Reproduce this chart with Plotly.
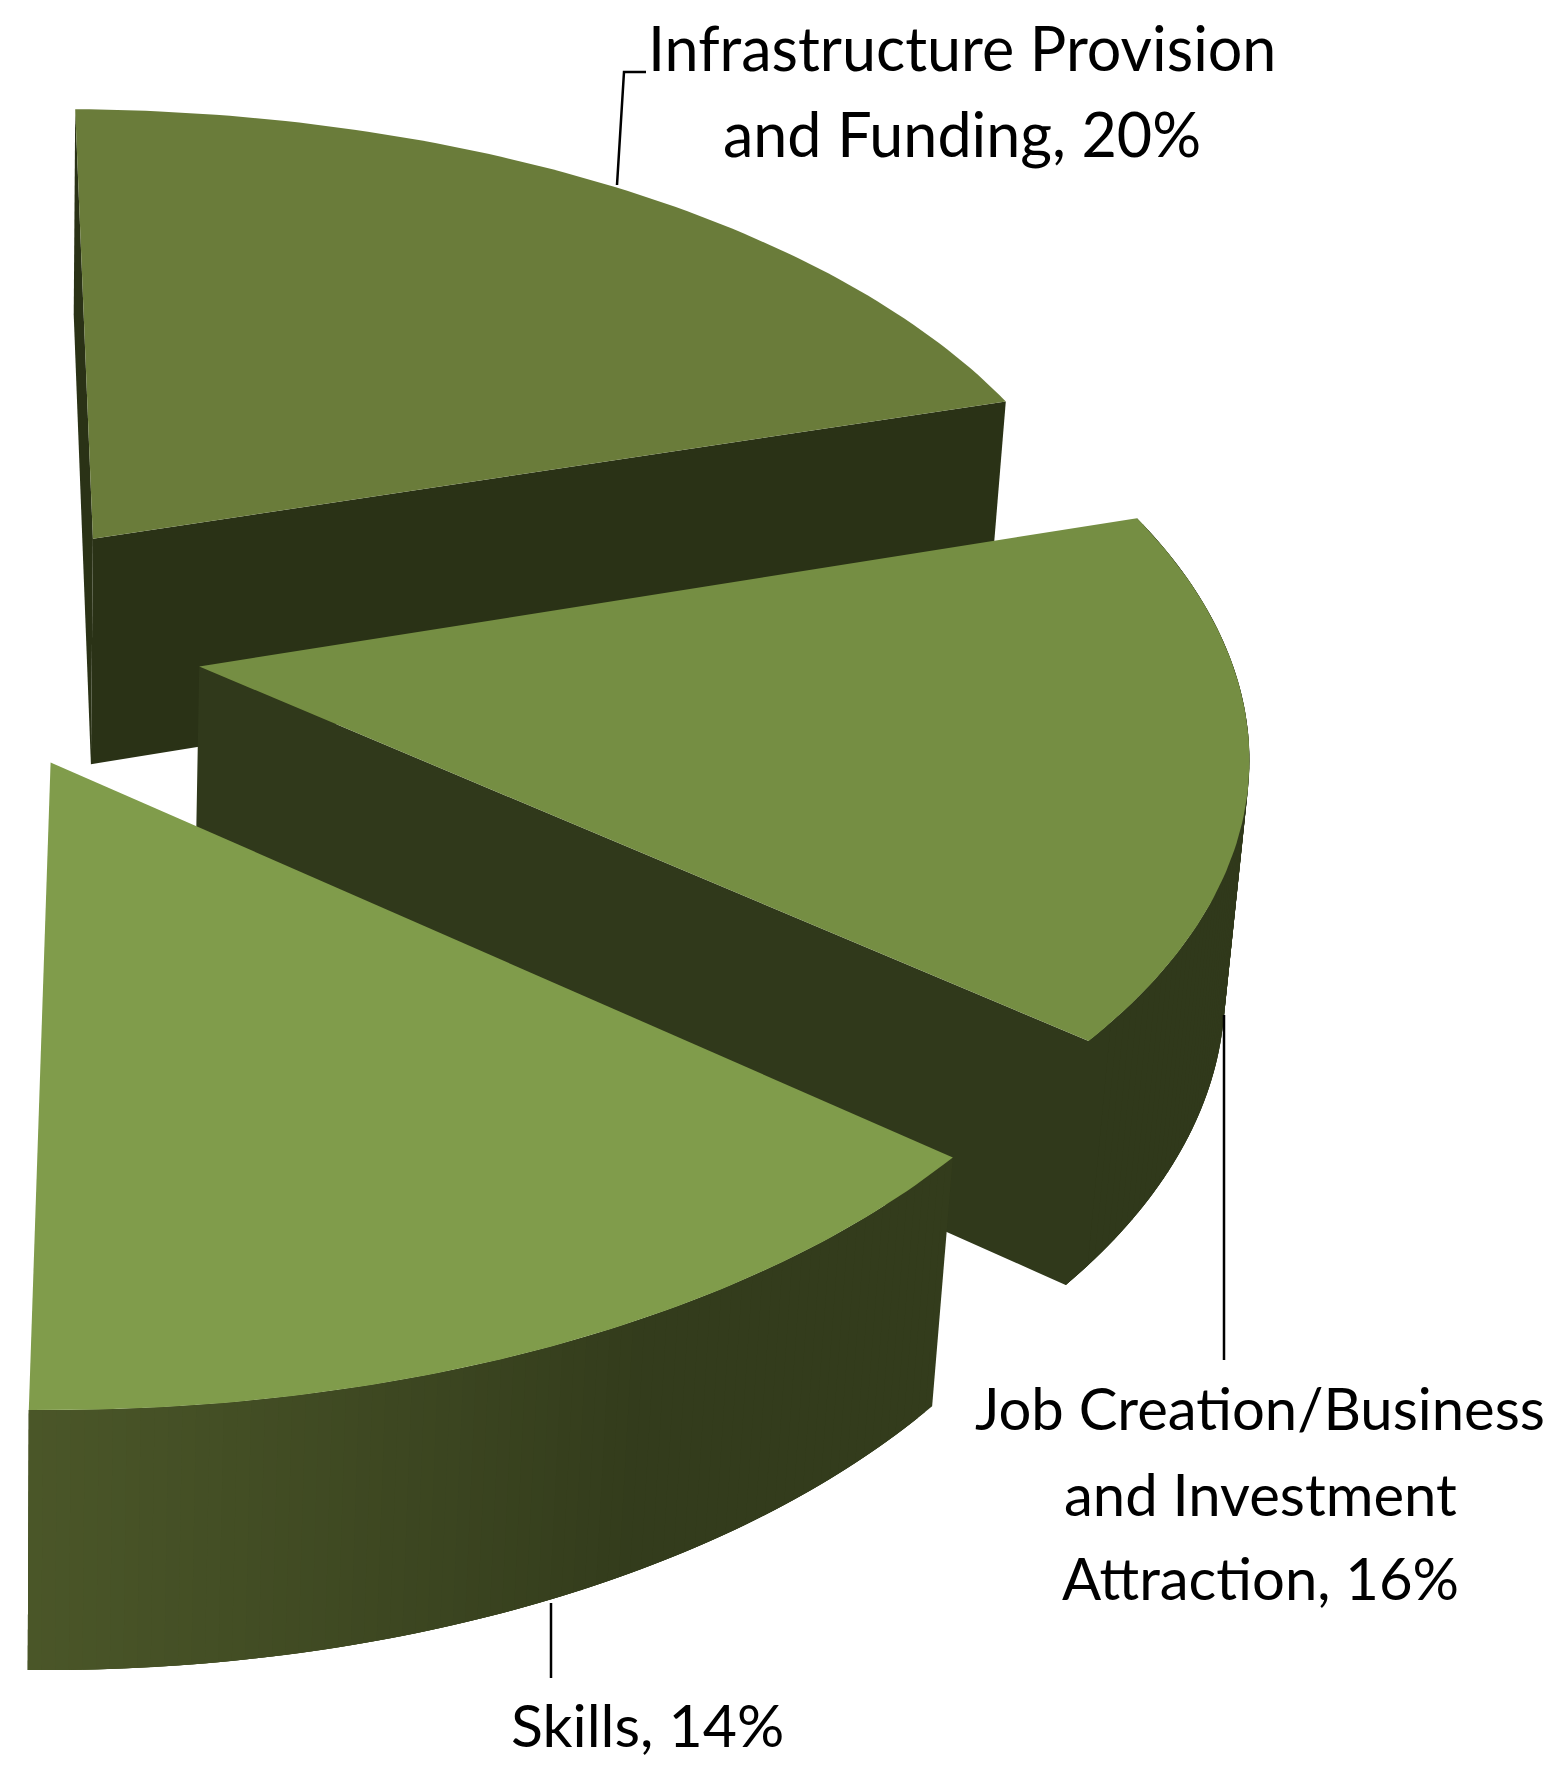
import numpy as np
import plotly.graph_objects as go

# Data
categories = ["Infrastructure Provision and Funding", "Job Creation/Business and Investment Attraction", "Skills"]
values = [20, 16, 14]
label_lines = [["Infrastructure Provision", "and Funding, 20%"],
               ["Job Creation/Business", "and Investment", "Attraction, 16%"],
               ["Skills, 14%"]]

# Styles and projection (pie plane -> picture pixels)
top_colors = ["#6A7C3A", "#758E43", "#809C4B"]
wall_colors = ["#2A3216", "#30391B"]
wall_left, wall_right = np.array([0x4B, 0x57, 0x29]), np.array([0x33, 0x3C, 0x1C])
H = np.array([[1.03811, 0.10151, -0.05734], [0.05152, -0.42394, 0.63999], [-0.0037, 0.14245, 1.0]])
H[:2] *= 1000
VANISH = np.array([-17.0, 12800.0])
THICK = 0.0193
EXPLODE = 0.25
START_DEG = -6.0
ANGLE_SCALE = 1.01
FONT = "Lato"
label_sizes = [61, 58, 59]
PAGE_MARGIN = 8  # the browser's default body margin

def project(X, Y, bottom=False):
    p = np.vstack([X, Y, np.ones_like(X)])
    q = H @ p
    if bottom:
        q = q + np.vstack([np.full_like(X, THICK * VANISH[0]), np.full_like(X, THICK * VANISH[1]), np.full_like(X, THICK)])
    return q[0] / q[2], q[1] / q[2]

edges = np.radians(np.cumsum([0] + values) * 3.6 * ANGLE_SCALE + START_DEG)
wedges = []
for i in range(len(values)):
    a0, a1 = edges[i], edges[i + 1]
    mid = (a0 + a1) / 2
    cx, cy = EXPLODE * np.sin(mid), EXPLODE * np.cos(mid)
    t = np.linspace(a0, a1, 81)
    wedges.append((np.array([cx]), np.array([cy]), cx + np.sin(t), cy + np.cos(t)))

fig = go.Figure()
def poly(x, y, color):
    fig.add_trace(go.Scatter(x=list(x), y=list(y), mode="lines", fill="toself", fillcolor=color,
                             line=dict(width=0), hoverinfo="skip", showlegend=False))

def wall(ax, ay, bx, by, color):
    """Wall below the top-face path a -> b."""
    x1, y1 = project(np.r_[ax, bx], np.r_[ay, by])
    x2, y2 = project(np.r_[ax, bx], np.r_[ay, by], bottom=True)
    poly(np.r_[x1, x2[::-1], x1[:1]], np.r_[y1, y2[::-1], y1[:1]], color)

def top(w, color):
    cx, cy, ax, ay = w
    x, y = project(np.r_[cx, ax, cx], np.r_[cy, ay, cy])
    poly(x, y, color)

# Infrastructure wedge
cx, cy, ax, ay = wedges[0]
wall(cx, cy, ax[:1], ay[:1], wall_colors[0])
wall(cx, cy, ax[-1:], ay[-1:], wall_colors[0])
top(wedges[0], top_colors[0])

# Job creation wedge
cx, cy, ax, ay = wedges[1]
n = len(ax) - 1
for j in range(n):
    wall(ax[j:j + 1], ay[j:j + 1], ax[j + 1:j + 4], ay[j + 1:j + 4], wall_colors[1])
wall(cx, cy, ax[:-5:-1], ay[:-5:-1], wall_colors[1])
top(wedges[1], top_colors[1])

# Skills wedge: shaded outer wall, lighter toward the left
cx, cy, ax, ay = wedges[2]
n = len(ax) - 1
for j in range(n):
    f = float(np.clip((j - 0.4 * n) / (0.6 * n), 0, 1))
    c = wall_right + (wall_left - wall_right) * f
    wall(ax[j:j + 1], ay[j:j + 1], ax[j + 1:j + 4], ay[j + 1:j + 4], "rgb(%d,%d,%d)" % tuple(c))
top(wedges[2], top_colors[2])

leaders = ["M 646 72 L 624 72 L 617 185", "M 1224 1015 L 1224 1360", "M 551 1603 L 551 1678"]
shapes = [dict(type="path", path=p, line=dict(color="black", width=2.5), xref="x", yref="y") for p in leaders]

centers = [962, 1260, 647]
baselines = [[71, 157], [1429, 1515, 1599], [1747]]
for lines, xc, bases, size in zip(label_lines, centers, baselines, label_sizes):
    for line, b in zip(lines, bases):
        fig.add_annotation(text=line, x=xc, y=b, xref="x", yref="y", showarrow=False, xanchor="center",
                           yanchor="bottom", yshift=-0.25 * size, font=dict(family=FONT, size=size, color="black"))

fig.update_layout(width=1554, height=1768, margin=dict(l=0, r=0, t=0, b=0), paper_bgcolor="white",
                  plot_bgcolor="white", showlegend=False, shapes=shapes,
                  xaxis=dict(range=[PAGE_MARGIN, 1554 + PAGE_MARGIN], visible=False),
                  yaxis=dict(range=[1768 + PAGE_MARGIN, PAGE_MARGIN], visible=False))
fig.write_html("out.html")
